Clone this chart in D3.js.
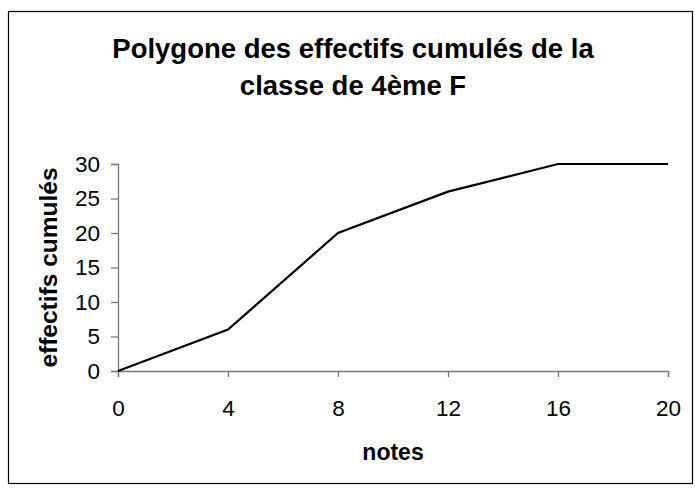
<!DOCTYPE html>
<html>
<head>
<meta charset="utf-8">
<script src="https://cdn.jsdelivr.net/npm/d3@7"></script>
<style>
  html, body { margin: 0; padding: 0; background: #fff; }
  svg { display: block; font-family: "Liberation Sans", Arial, sans-serif; }
</style>
</head>
<body>
<svg id="chart" width="695" height="488"></svg>
<script>
const notes = [0, 4, 8, 12, 16, 20];
const effectifsCumules = [0, 6, 20, 26, 30, 30];
const xTicks = [0, 4, 8, 12, 16, 20];
const yTicks = [0, 5, 10, 15, 20, 25, 30];
const titleLines = ["Polygone des effectifs cumulés de la", "classe de 4ème F"];
const xLabel = "notes";
const yLabel = "effectifs cumulés";

const svg = d3.select("#chart");

svg.append("rect")
  .attr("x", 8.5).attr("y", 11.5)
  .attr("width", 684).attr("height", 472)
  .attr("fill", "#fff").attr("stroke", "#000").attr("stroke-width", 1.2);

const x = d3.scaleLinear().domain([0, 20]).range([118, 668]);
const y = d3.scaleLinear().domain([0, 30]).range([371, 164]);

// title
const title = svg.append("text")
  .attr("text-anchor", "middle")
  .attr("font-weight", "bold")
  .attr("font-size", 27.5)
  .attr("fill", "#000");
titleLines.forEach((t, i) => {
  title.append("tspan").attr("x", 353).attr("y", 58 + i * 37).text(t);
});

// axes
const xAxis = d3.axisBottom(x).tickValues(xTicks).tickSize(6).tickPadding(23).tickFormat(d3.format("d"));
const gx = svg.append("g").attr("transform", `translate(0,${y(0)})`).call(xAxis);
gx.select(".domain").attr("stroke", "#777").attr("stroke-width", 1.3);
gx.selectAll(".tick line").attr("stroke", "#777").attr("stroke-width", 1.3);
gx.selectAll(".tick text")
  .attr("font-size", 22.5).attr("fill", "#000")
  .attr("font-family", "Liberation Sans, Arial, sans-serif");

const yAxis = d3.axisLeft(y).tickValues(yTicks).tickSize(7).tickPadding(11).tickFormat(d3.format("d"));
const gy = svg.append("g").attr("transform", `translate(${x(0)},0)`).call(yAxis);
gy.select(".domain").attr("stroke", "#777").attr("stroke-width", 1.3);
gy.selectAll(".tick line").attr("stroke", "#777").attr("stroke-width", 1.3);
gy.selectAll(".tick text")
  .attr("font-size", 22.5).attr("fill", "#000")
  .attr("font-family", "Liberation Sans, Arial, sans-serif");

// axis titles
svg.append("text")
  .attr("x", 393).attr("y", 460)
  .attr("text-anchor", "middle")
  .attr("font-weight", "bold").attr("font-size", 23)
  .attr("fill", "#000")
  .text(xLabel);

svg.append("text")
  .attr("transform", `translate(57,${(y(0) + y(30)) / 2}) rotate(-90)`)
  .attr("text-anchor", "middle")
  .attr("font-weight", "bold").attr("font-size", 24.5)
  .attr("fill", "#000")
  .text(yLabel);

// line
const line = d3.line().x((d, i) => x(notes[i])).y(d => y(d));
svg.append("path")
  .datum(effectifsCumules)
  .attr("d", line)
  .attr("fill", "none")
  .attr("stroke", "#000")
  .attr("stroke-width", 2.2)
  .attr("stroke-linejoin", "miter");
</script>
</body>
</html>
